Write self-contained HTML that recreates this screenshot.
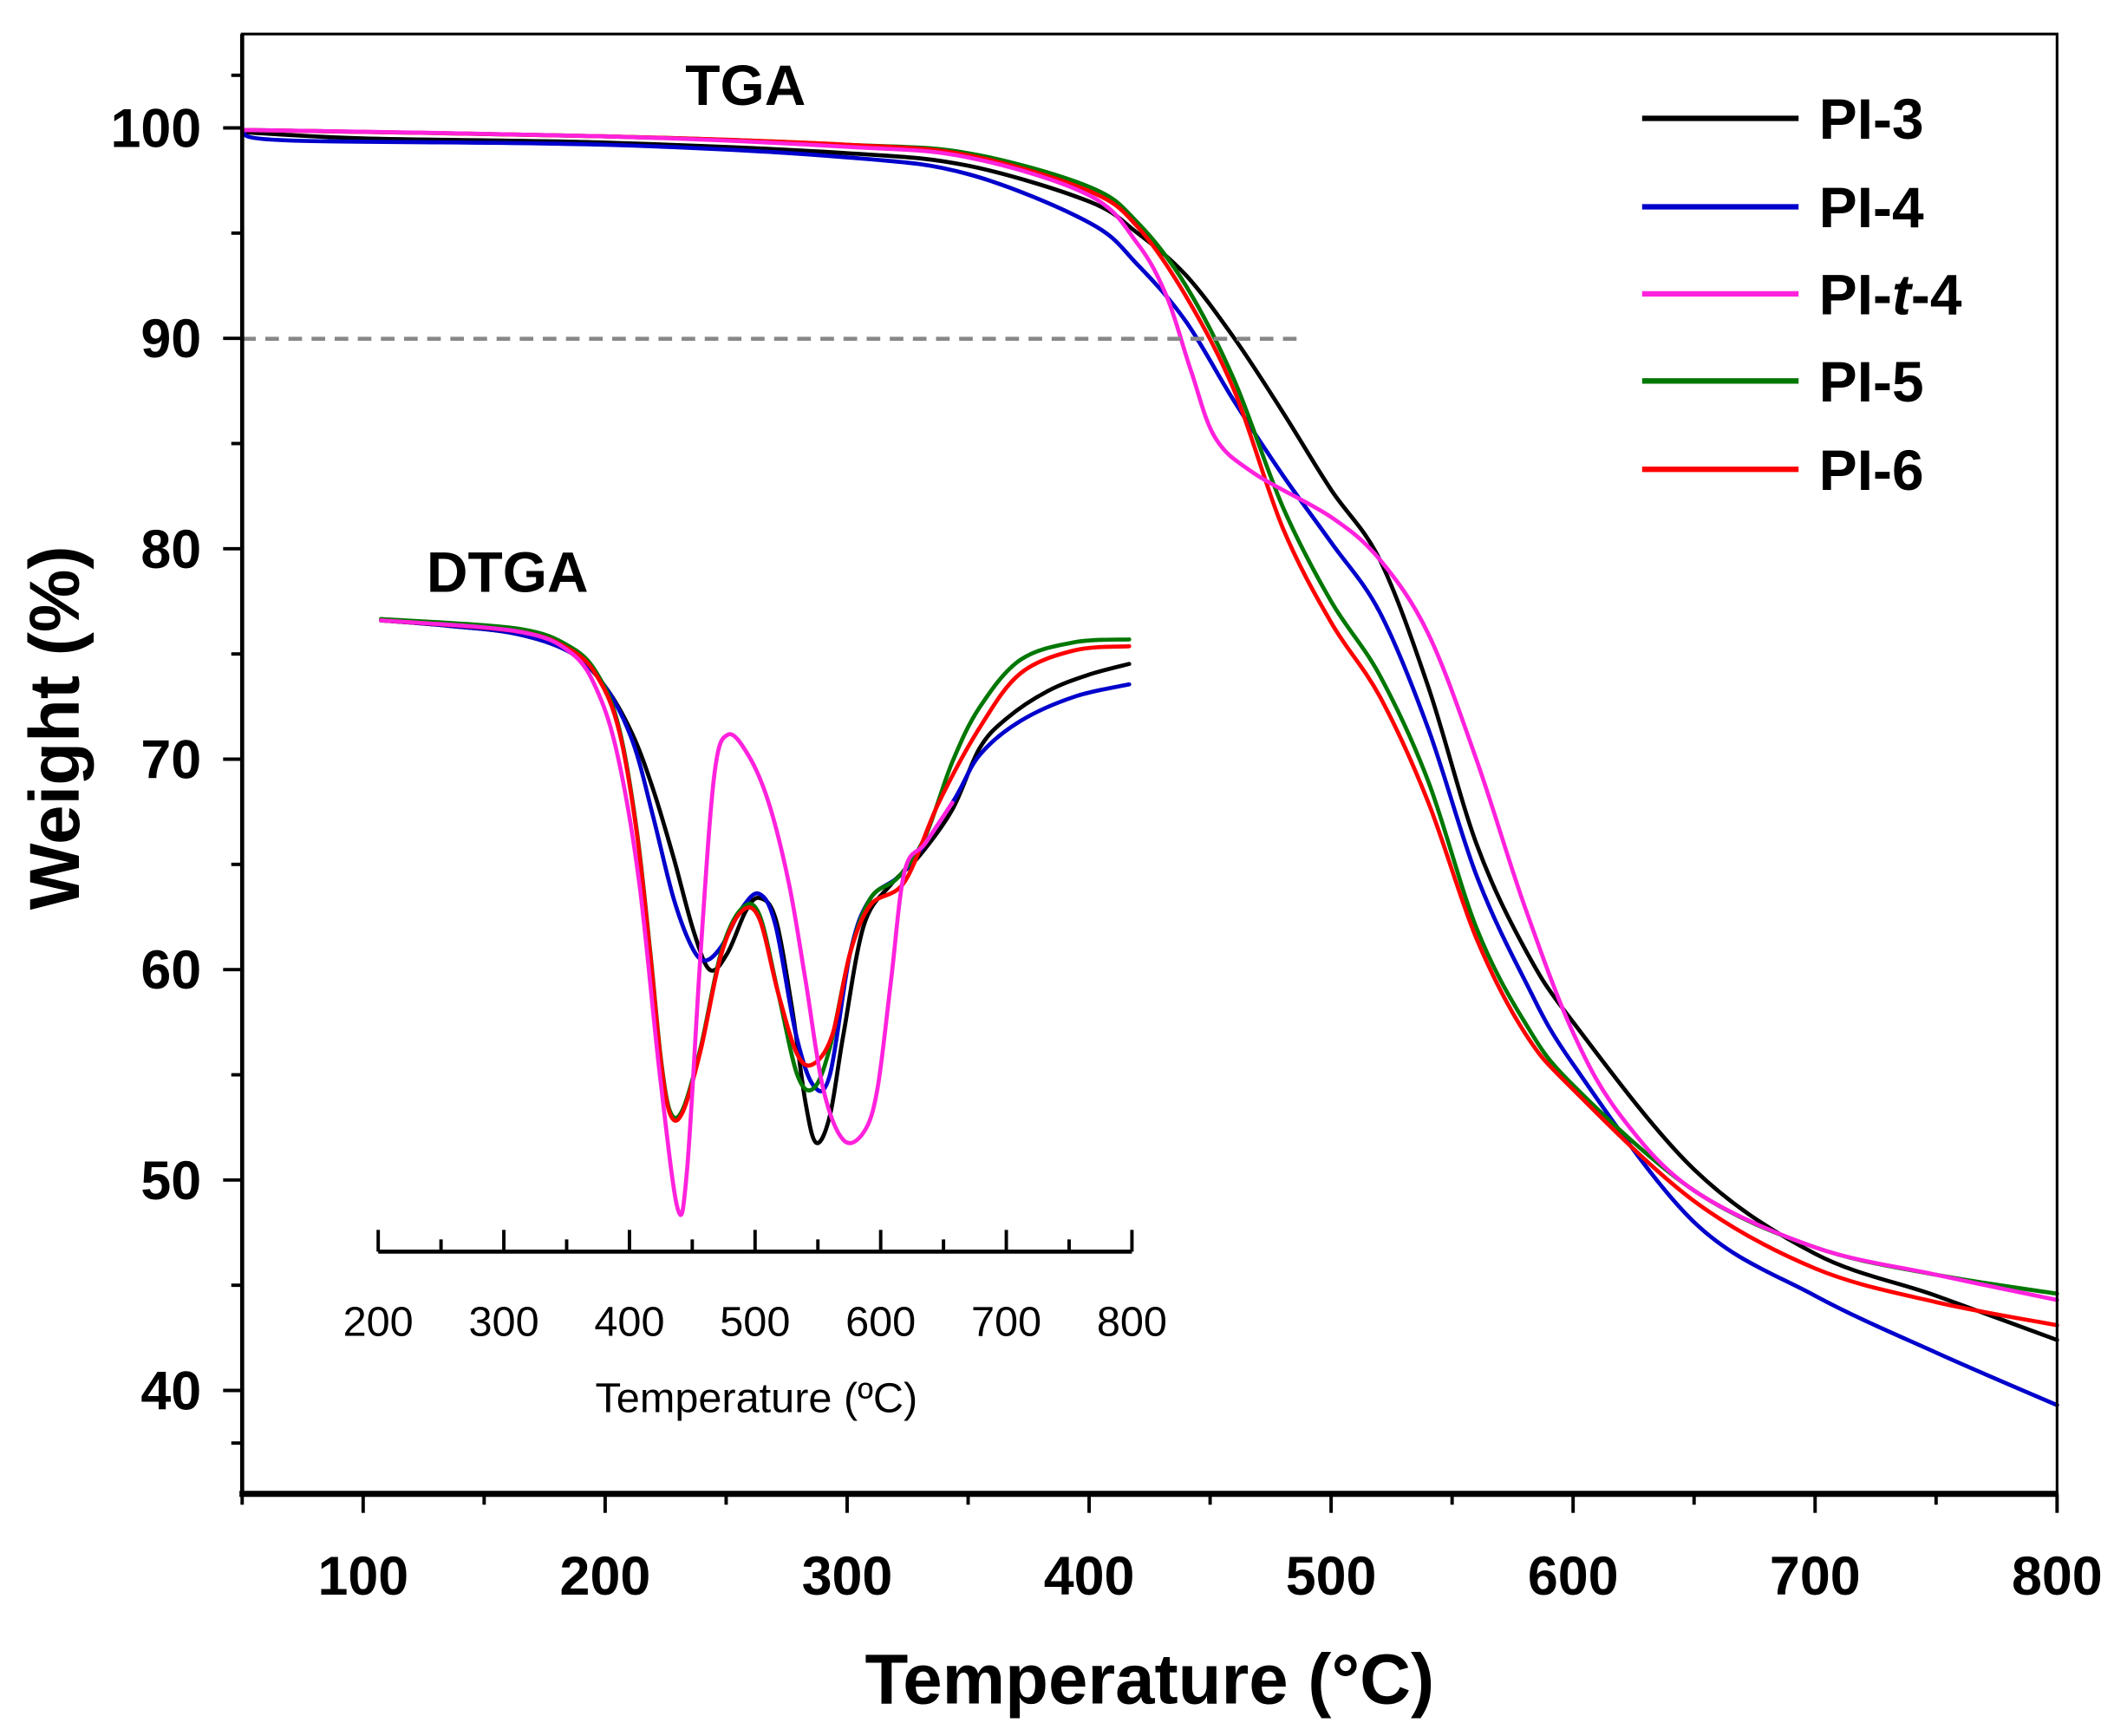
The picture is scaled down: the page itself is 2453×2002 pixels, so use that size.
<!DOCTYPE html>
<html><head><meta charset="utf-8"><style>
html,body{margin:0;padding:0;background:#fff}
svg{display:block}
text{font-family:"Liberation Sans Narrow","Liberation Sans",Arial,sans-serif}
</style></head><body>
<svg id="s" width="2453" height="2002" viewBox="0 0 1563.4 1276" preserveAspectRatio="none" xmlns="http://www.w3.org/2000/svg">
<rect x="0" y="0" width="1563.4" height="1276" fill="#fff"/>
<g id="curves" fill="none" stroke-width="3" stroke-linejoin="round" stroke-linecap="round"></g>
<line x1="178" y1="249" x2="960" y2="249" stroke="#888" stroke-width="3" stroke-dasharray="10,7"/>
<rect x="178" y="25" width="1334" height="1073" fill="none" stroke="#000" stroke-width="2"/>
<line x1="178" y1="25" x2="178" y2="1100" stroke="#000" stroke-width="3"/>
<line x1="176" y1="1098" x2="1513" y2="1098" stroke="#000" stroke-width="4.5"/>
<g id="ticks" stroke="#000" stroke-width="2.5"></g>
<g id="labels" font-weight="bold" font-size="40" fill="#000"></g>
<text x="845" y="1252" font-size="52" font-weight="bold" text-anchor="middle">Temperature (°C)</text>
<text transform="translate(58,535) rotate(-90)" font-size="52" font-weight="bold" text-anchor="middle">Weight (%)</text>
<text x="548" y="77" font-size="42" font-weight="bold" text-anchor="middle">TGA</text>
<text x="373" y="435" font-size="42" font-weight="bold" text-anchor="middle">DTGA</text>
<line x1="278" y1="920" x2="832" y2="920" stroke="#000" stroke-width="3"/>
<g id="iticks" stroke="#000" stroke-width="2.5"></g>
<g id="ilabels" font-size="31" fill="#000" text-anchor="middle"></g>
<text x="556" y="1038" font-size="31" text-anchor="middle">Temperature (ºC)</text>
<g stroke-width="4">
<line x1="1207" y1="87" x2="1322" y2="87" stroke="#000"/>
<line x1="1207" y1="152" x2="1322" y2="152" stroke="#0000cc"/>
<line x1="1207" y1="216" x2="1322" y2="216" stroke="#ff22dd"/>
<line x1="1207" y1="280" x2="1322" y2="280" stroke="#007700"/>
<line x1="1207" y1="345" x2="1322" y2="345" stroke="#ff0000"/>
</g>
<g font-size="42" font-weight="bold" fill="#000">
<text x="1337" y="102">PI-3</text>
<text x="1337" y="167">PI-4</text>
<text x="1337" y="231">PI-<tspan font-style="italic">t</tspan>-4</text>
<text x="1337" y="295">PI-5</text>
<text x="1337" y="360">PI-6</text>
</g>
</svg>
<script>
var NS="http://www.w3.org/2000/svg";
function X(t){return 178+(t-50)*1334/750;}
function Y(w){return 94+(100-w)*15.467;}
function cr(p){var d="M"+p[0][0].toFixed(1)+","+p[0][1].toFixed(1);
for(var i=0;i<p.length-1;i++){var p0=p[i-1]||p[i],p1=p[i],p2=p[i+1],p3=p[i+2]||p2;
var c1=[p1[0]+(p2[0]-p0[0])/6,p1[1]+(p2[1]-p0[1])/6],c2=[p2[0]-(p3[0]-p1[0])/6,p2[1]-(p3[1]-p1[1])/6];
d+="C"+c1[0].toFixed(1)+","+c1[1].toFixed(1)+" "+c2[0].toFixed(1)+","+c2[1].toFixed(1)+" "+p2[0].toFixed(1)+","+p2[1].toFixed(1);}
return d;}
function add(g,pts,col){var e=document.createElementNS(NS,"path");e.setAttribute("d",cr(pts));e.setAttribute("stroke",col);g.appendChild(e);}
function tga(a){return a.map(function(q){return [X(q[0]),Y(q[1])];});}
var g=document.getElementById("curves");
var T={
"#000":[[50,99.8],[100,99.5],[200,99.3],[300,98.8],[350,98.2],[400,96.5],[420,95],[440,93],[460,90],[480,86.5],[500,82.8],[520,79.5],[540,73.5],[560,66],[580,61],[600,57.5],[650,50.5],[700,46.5],[750,44.5],[800,42.4]],
"#0000cc":[[50,99.8],[70,99.4],[200,99.2],[300,98.6],[350,97.8],[400,95.5],[420,93.5],[440,90.8],[460,87],[480,83.5],[500,80.3],[520,77],[540,71.5],[560,64.5],[580,59.5],[600,55.5],[650,48],[700,44.5],[750,41.8],[800,39.3]],
"#007700":[[50,99.9],[200,99.6],[300,99.2],[350,98.8],[400,97.2],[420,95.5],[440,92.5],[460,88],[480,82],[500,77.5],[520,74],[540,69],[560,62],[580,57.5],[600,54.5],[650,49.5],[700,46.8],[750,45.5],[800,44.6]],
"#ff0000":[[50,99.9],[200,99.6],[300,99.2],[350,98.7],[400,97],[420,95.3],[440,92],[460,87.5],[480,81],[500,76.5],[520,73],[540,68],[560,61.5],[580,57],[600,54.3],[650,49],[700,45.8],[750,44.2],[800,43.1]],
"#ff22dd":[[50,99.9],[200,99.6],[300,99.1],[350,98.6],[400,96.8],[420,94.5],[432,92],[442,88.5],[452,85.3],[468,83.6],[500,81.5],[520,79.5],[540,76],[560,70],[580,63],[600,57],[620,53],[650,49.5],[700,46.8],[750,45.5],[800,44.3]]};
for(var c in T)add(g,tga(T[c]),c);
var I={
"#000":[[280,456],[330,460],[380,466],[420,480],[445,505],[465,540],[480,580],[495,630],[510,685],[522,713],[535,700],[548,670],[558,660],[570,675],[582,740],[592,810],[600,840],[610,820],[620,760],[635,680],[655,650],[675,630],[700,595],[720,550],[740,528],[770,508],[800,496],[830,488]],
"#0000cc":[[280,456],[330,460],[380,466],[420,480],[445,505],[465,545],[480,600],[495,660],[508,695],[518,706],[530,696],[545,668],[558,657],[570,680],[585,760],[598,798],[610,790],[625,700],[640,660],[665,640],[700,590],[720,555],[750,530],[790,512],[830,503]],
"#007700":[[280,455],[380,462],[420,476],[440,497],[455,535],[468,610],[478,700],[486,780],[493,818],[502,815],[515,770],[530,700],[545,668],[558,672],[572,730],[586,790],[598,800],[610,770],[625,700],[640,660],[660,645],[680,615],[700,560],[720,520],[750,485],[790,472],[830,470]],
"#ff0000":[[280,456],[380,464],[420,478],[440,499],[455,537],[468,612],[478,702],[486,782],[493,820],[502,817],[515,772],[530,702],[545,670],[558,675],[572,730],[586,775],[598,782],[612,760],[625,700],[640,665],[665,648],[690,590],[720,535],[750,495],[790,478],[830,475]],
"#ff22dd":[[280,456],[380,464],[420,480],[440,510],[455,560],[470,650],[485,790],[498,888],[505,860],[515,700],[525,570],[535,540],[550,555],[565,590],[580,650],[592,720],[605,800],[620,838],[635,832],[645,800],[655,720],[665,640],[680,620],[700,590]]};
for(var c in I)add(g,I[c],c);
var tk=document.getElementById("ticks"),lb=document.getElementById("labels");
function ln(p,a,b,c,d){var e=document.createElementNS(NS,"line");e.setAttribute("x1",a);e.setAttribute("y1",b);e.setAttribute("x2",c);e.setAttribute("y2",d);p.appendChild(e);}
function tx(p,x,y,s,anc){var e=document.createElementNS(NS,"text");e.setAttribute("x",x);e.setAttribute("y",y);if(anc)e.setAttribute("text-anchor",anc);e.textContent=s;p.appendChild(e);}
for(var t=50;t<=800;t+=50){var x=X(t),maj=t%100==0;ln(tk,x,1098,x,1098+(maj?14:8));if(maj)tx(lb,x,1172,""+t,"middle");}
for(var w=40;w<=100;w+=5){var y=Y(w),maj=w%10==0;ln(tk,178,y,178-(maj?14:8),y);if(maj)tx(lb,148,y+14,""+w,"end");}
ln(tk,178,Y(37.5),170,Y(37.5));ln(tk,178,Y(102.5),170,Y(102.5));
var it=document.getElementById("iticks"),il=document.getElementById("ilabels");
for(var t=200;t<=800;t+=50){var x=278+(t-200)*554/600,maj=t%100==0;ln(it,x,920,x,920-(maj?16:9));if(maj)tx(il,x,982,""+t);}
</script>
</body></html>
